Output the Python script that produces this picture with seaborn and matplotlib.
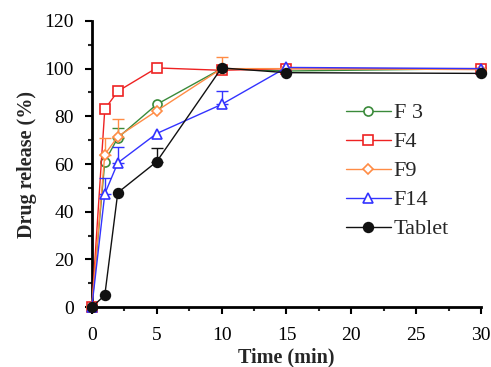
import numpy as np
import pandas as pd
import matplotlib
matplotlib.use("Agg")
import matplotlib.pyplot as plt
import seaborn as sns

# --- data ---
time = [0, 1, 2, 5, 10, 15, 30]
f3 = [0, 61, 71, 85, 100, 99, 100]
f4 = [0, 83, 90.5, 100.3, 99.3, 100, 100]
f9 = [0, 64, 71.5, 82.3, 100, 100, 99.6]
f14 = [0, 47.5, 60.5, 72.8, 85, 100.5, 100]
tablet = [0, 5, 48, 61, 100.3, 98.3, 98]

# upper error bars (0 = none visible)
f3_err = [0, 0, 4, 0, 0, 0, 0]
f4_err = [0, 0, 0, 0, 0, 0, 0]
f9_err = [0, 7, 7.5, 0, 5, 0, 0]
f14_err = [0, 6.5, 6.5, 0, 5.6, 0, 0]
tablet_err = [0, 0, 0, 5.8, 0, 0, 0]

names = ["F 3", "F4", "F9", "F14", "Tablet"]
values = [f3, f4, f9, f14, tablet]
errors = [f3_err, f4_err, f9_err, f14_err, tablet_err]
colors = ["#3a8a3a", "#ee2222", "#ff8c45", "#3333ff", "#111111"]
markers = ["o", "s", "D", "^", "o"]
msizes = [6.5, 7, 5.5, 6.5, 7]
faces = ["white", "white", "white", "white", "#111111"]

df = pd.DataFrame({
    "Time": time * len(names),
    "Release": sum(values, []),
    "Err": sum(errors, []),
    "Formulation": sum([[n] * len(time) for n in names], []),
})

sns.set_style("ticks")
plt.rcParams["font.family"] = ["Liberation Serif", "DejaVu Serif"]

fig = plt.figure(figsize=(4.91, 3.67), dpi=100)
ax = fig.add_axes([0.187, 0.163, 0.793, 0.78])

for i, name in enumerate(names):
    sub = df[df["Formulation"] == name]
    sns.lineplot(data=sub, x="Time", y="Release", ax=ax, color=colors[i],
                 marker=markers[i], markersize=msizes[i], markerfacecolor=faces[i],
                 markeredgecolor=colors[i], markeredgewidth=1.2, linewidth=1.0,
                 label=name, zorder=3 + i, clip_on=False)
    e = sub[sub["Err"] > 0]
    if len(e):
        ax.errorbar(e["Time"], e["Release"], yerr=[np.zeros(len(e)), e["Err"]],
                    fmt="none", ecolor=colors[i], elinewidth=1.0, capsize=4,
                    capthick=1.0, zorder=2 + i)

ax.set_xlim(0, 30)
ax.set_ylim(0, 120)
ax.set_xticks(range(0, 31, 5))
ax.set_xticks(np.arange(2.5, 30, 5), minor=True)
ax.set_yticks(range(0, 121, 20))
ax.set_yticks(range(10, 120, 20), minor=True)
ax.tick_params(axis="both", which="major", direction="out", length=5, width=1.5,
               labelsize=14, colors="black")
ax.tick_params(axis="x", which="major", pad=9)
ax.tick_params(axis="y", which="major", pad=8)
ax.tick_params(axis="both", which="minor", direction="out", length=3, width=1.5)
for s in ["left", "bottom"]:
    ax.spines[s].set_linewidth(2)
    ax.spines[s].set_color("black")
sns.despine(ax=ax)

ax.set_xlabel("Time (min)", fontsize=14.5, fontweight="bold", labelpad=3)
ax.set_ylabel("Drug release (%)", fontsize=14.5, fontweight="bold", labelpad=5)

ax.legend(loc="center left", bbox_to_anchor=(0.653, 0.475), frameon=False,
          fontsize=16, handlelength=2.0, handletextpad=0.15, labelspacing=0.38,
          borderaxespad=0, borderpad=0)

fig.savefig("out.png", dpi=100)
